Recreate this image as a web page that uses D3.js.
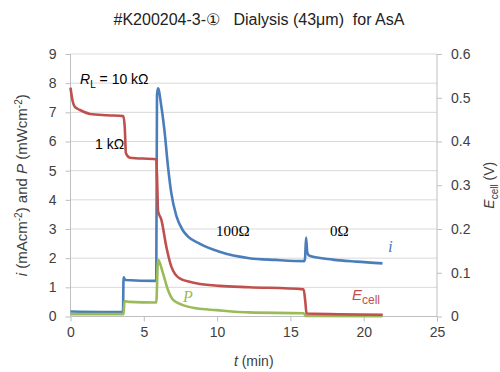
<!DOCTYPE html>
<html>
<head>
<meta charset="utf-8">
<script src="https://cdn.jsdelivr.net/npm/d3@7"></script>
<style>
  body { margin: 0; background: #fff; }
  text { font-family: "Liberation Sans", Arial, sans-serif; white-space: pre; }
</style>
</head>
<body>
<div id="chart"></div>
<script>
// current density i (mA cm-2), left axis
var tI = [0, 3.58, 3.62, 3.75, 5.85, 5.9, 5.97, 6.2, 6.43, 6.65, 6.88, 7.22, 7.67, 8.0, 8.8, 10.17, 12.2, 14, 15.95, 16.0, 16.07, 16.15, 16.3, 17.9, 19.5, 21.28];
var iVals = [0.17, 0.15, 1.34, 1.25, 1.22, 7.6, 7.82, 7.19, 6.28, 5.14, 4.22, 3.45, 2.95, 2.75, 2.5, 2.22, 2.0, 1.94, 1.9, 2.0, 2.71, 2.2, 2.08, 1.95, 1.88, 1.82];

// power density P (mW cm-2), left axis
var tP = [0, 3.62, 3.68, 4.0, 5.85, 5.97, 6.31, 6.65, 7.0, 7.67, 8.58, 9.95, 12.2, 15.9, 16.05, 21.28];
var pVals = [0.08, 0.08, 0.53, 0.5, 0.48, 1.94, 1.48, 0.91, 0.57, 0.39, 0.28, 0.22, 0.14, 0.11, 0.02, 0.01];

// cell voltage E (V), right axis
var tE = [0, 0.1, 0.3, 0.65, 1.33, 2.5, 3.6, 3.7, 3.78, 4.05, 5.85, 5.92, 5.97, 6.2, 6.54, 6.88, 7.45, 8.58, 10.17, 12.2, 15.9, 16.02, 16.1, 21.3];
var eVals = [0.523, 0.5, 0.479, 0.472, 0.463, 0.46, 0.458, 0.433, 0.373, 0.363, 0.359, 0.3, 0.241, 0.221, 0.159, 0.114, 0.087, 0.076, 0.07, 0.067, 0.062, 0.033, 0.0067, 0.004];

var xTicks = [0, 5, 10, 15, 20, 25];
var yTicks = [0, 1, 2, 3, 4, 5, 6, 7, 8, 9];
var y2Ticks = [0, 0.1, 0.2, 0.3, 0.4, 0.5, 0.6];

var width = 500, height = 372;
var margin = {top: 54, right: 63, bottom: 55.5, left: 70.5};

var svg = d3.select("#chart").append("svg")
    .attr("width", width)
    .attr("height", height);

var x = d3.scaleLinear().domain([0, 25]).range([margin.left, width - margin.right]);
var y = d3.scaleLinear().domain([0, 9]).range([height - margin.bottom, margin.top]);
var y2 = d3.scaleLinear().domain([0, 0.6]).range([height - margin.bottom, margin.top]);

// gridlines
svg.append("g").selectAll("line")
    .data(yTicks.slice(1))
    .enter().append("line")
        .attr("x1", x(0)).attr("x2", x(25))
        .attr("y1", function(d) { return y(d); })
        .attr("y2", function(d) { return y(d); })
        .attr("stroke", "#d9d9d9")
        .attr("stroke-width", 1);

// axes
var axisColor = "#bfbfbf";
var gx = svg.append("g")
    .attr("transform", "translate(0," + y(0) + ")")
    .call(d3.axisBottom(x).tickValues(xTicks).tickSize(5).tickPadding(6));
var gy = svg.append("g")
    .attr("transform", "translate(" + x(0) + ",0)")
    .call(d3.axisLeft(y).tickValues(yTicks).tickSize(5).tickPadding(9));
var gy2 = svg.append("g")
    .attr("transform", "translate(" + x(25) + ",0)")
    .call(d3.axisRight(y2).tickValues(y2Ticks).tickSize(5).tickPadding(9)
        .tickFormat(function(d) { return d === 0 ? "0" : d3.format(".1f")(d); }));

[gx, gy, gy2].forEach(function(g) {
    g.selectAll("path").attr("stroke", axisColor);
    g.selectAll("line").attr("stroke", axisColor);
    g.selectAll("text")
        .attr("fill", "#404040")
        .style("font-size", "14px")
        .style("font-family", "'Liberation Sans', Arial, sans-serif");
});
gy.select(".domain").attr("d", "M0," + y(9) + "V" + y(0));
gy2.select(".domain").attr("d", "M0," + y2(0.6) + "V" + y2(0));
gx.select(".domain").attr("d", "M" + x(0) + ",0H" + x(25));

// series
function series(ts, vs, scale, color) {
    var pts = ts.map(function(t, k) { return [t, vs[k]]; });
    var line = d3.line()
        .x(function(d) { return x(d[0]); })
        .y(function(d) { return scale(d[1]); })
        .curve(d3.curveMonotoneX);
    svg.append("path")
        .datum(pts)
        .attr("d", line)
        .attr("fill", "none")
        .attr("stroke", color)
        .attr("stroke-width", 2.6)
        .attr("stroke-linejoin", "round");
}
series(tI, iVals, y, "#4a7ebb");
series(tP, pVals, y, "#9bbb59");
series(tE, eVals, y2, "#c0504d");

// title
svg.append("text")
    .attr("x", 259).attr("y", 25)
    .attr("text-anchor", "middle")
    .attr("fill", "#222")
    .style("font-size", "16px")
    .text("#K200204-3-\u2460   Dialysis (43\u03bcm)  for AsA");

// axis titles
svg.append("text")
    .attr("x", x(12.5)).attr("y", 366)
    .attr("text-anchor", "middle")
    .attr("fill", "#404040")
    .style("font-size", "14px")
    .call(function(t) {
        t.append("tspan").style("font-style", "italic").text("t");
        t.append("tspan").text(" (min)");
    });

var yl = svg.append("text")
    .attr("transform", "translate(27," + y(4.5) + ") rotate(-90)")
    .attr("text-anchor", "middle")
    .attr("fill", "#404040")
    .style("font-size", "15px");
yl.append("tspan").style("font-style", "italic").text("i");
yl.append("tspan").text(" (mAcm");
yl.append("tspan").attr("dy", -5).style("font-size", "10px").text("-2");
yl.append("tspan").attr("dy", 5).text(") and ");
yl.append("tspan").style("font-style", "italic").text("P");
yl.append("tspan").text(" (mWcm");
yl.append("tspan").attr("dy", -5).style("font-size", "10px").text("-2");
yl.append("tspan").attr("dy", 5).text(")");

var yr = svg.append("text")
    .attr("transform", "translate(494," + y2(0.3) + ") rotate(-90)")
    .attr("text-anchor", "middle")
    .attr("fill", "#404040")
    .style("font-size", "14px");
yr.append("tspan").style("font-style", "italic").text("E");
yr.append("tspan").attr("dy", 4).style("font-size", "10px").text("cell");
yr.append("tspan").attr("dy", -4).text(" (V)");

// annotations
var rl = svg.append("text").attr("x", 80).attr("y", 84).attr("fill", "#000").style("font-size", "14px");
rl.append("tspan").style("font-style", "italic").text("R");
rl.append("tspan").attr("dy", 4).style("font-size", "10px").text("L");
rl.append("tspan").attr("dy", -4).text(" = 10 k\u03a9");

svg.append("text").attr("x", 95).attr("y", 149).attr("fill", "#000")
    .style("font-size", "14px").text("1 k\u03a9");

svg.append("text").attr("x", 216).attr("y", 236).attr("fill", "#000")
    .style("font-family", "'Liberation Serif', serif")
    .style("font-size", "15px").text("100\u03a9");

svg.append("text").attr("x", 330).attr("y", 236).attr("fill", "#000")
    .style("font-family", "'Liberation Serif', serif")
    .style("font-size", "15px").text("0\u03a9");

svg.append("text").attr("x", 388).attr("y", 252).attr("fill", "#4a7ebb")
    .style("font-family", "'Liberation Serif', serif")
    .style("font-style", "italic")
    .style("font-size", "17px").text("i");

svg.append("text").attr("x", 183).attr("y", 302).attr("fill", "#9bbb59")
    .style("font-family", "'Liberation Serif', serif")
    .style("font-style", "italic")
    .style("font-size", "16px").text("P");

var ec = svg.append("text").attr("x", 352).attr("y", 300).attr("fill", "#c0504d").style("font-size", "15px");
ec.append("tspan").style("font-style", "italic").text("E");
ec.append("tspan").attr("dy", 4).style("font-size", "12px").text("cell");
</script>
</body>
</html>
